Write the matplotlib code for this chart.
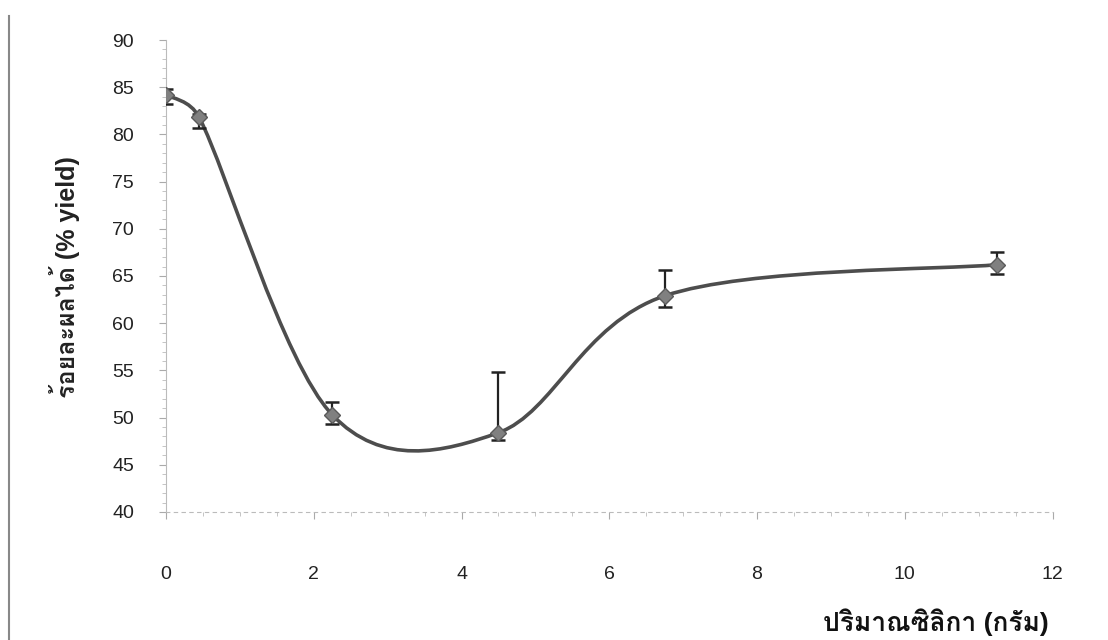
import numpy as np
import matplotlib
matplotlib.use("Agg")
from matplotlib import pyplot as plt
from matplotlib import font_manager
from matplotlib.ft2font import FT2Font
from matplotlib.path import Path
from matplotlib.patches import PathPatch
from matplotlib.lines import Line2D
from matplotlib.ticker import MultipleLocator

# silica amount (g) vs % yield
silica = [0.0, 0.45, 2.25, 4.5, 6.75, 11.25]
yield_pct = [84.2, 81.8, 50.3, 48.4, 62.9, 66.2]
err_low = [1.0, 1.1, 1.0, 0.8, 1.2, 1.0]
err_high = [0.6, 0.4, 1.4, 6.4, 2.7, 1.3]

xticks = [0, 2, 4, 6, 8, 10, 12]
yticks = [40, 45, 50, 55, 60, 65, 70, 75, 80, 85, 90]
xlabel = "ปริมาณซิลิกา (กรัม)"
ylabel = "ร้อยละผลได้ (% yield)"


def thai_families():
    # any installed family that has Thai glyphs
    fams = []
    for f in font_manager.fontManager.ttflist:
        try:
            cmap = FT2Font(f.fname).get_charmap()
        except Exception:
            continue
        if 0x0E1B in cmap and 0x0E34 in cmap and f.name not in fams:
            fams.append(f.name)
    return fams


plt.rcParams['font.family'] = ['Liberation Sans'] + thai_families() + ['DejaVu Sans']


def smooth_path(ax, xs, ys):
    # Excel style smoothed line: cubic Beziers with 1/6 tension,
    # control arms capped at half the segment length (in pixels)
    pts = ax.transData.transform(np.column_stack([xs, ys]))
    n = len(pts)
    verts = [pts[0]]
    codes = [Path.MOVETO]
    for i in range(n - 1):
        p0 = pts[i - 1] if i > 0 else pts[i]
        p1 = pts[i]
        p2 = pts[i + 1]
        p3 = pts[i + 2] if i + 2 < n else pts[i + 1]
        half = np.linalg.norm(p2 - p1) / 2.0
        a1 = (p2 - p0) / 6.0
        a2 = (p3 - p1) / 6.0
        if np.linalg.norm(a1) > half:
            a1 = a1 * half / np.linalg.norm(a1)
        if np.linalg.norm(a2) > half:
            a2 = a2 * half / np.linalg.norm(a2)
        verts += [p1 + a1, p2 - a2, p2]
        codes += [Path.CURVE4] * 3
    verts = ax.transData.inverted().transform(np.array(verts))
    return Path(verts, codes)


fig = plt.figure(figsize=(11.08, 6.4), dpi=100)
ax = fig.add_axes([0.1498, 0.2, 0.8002, 0.7375])

ax.set_xlim(0, 12)
ax.set_ylim(40, 90)
ax.set_xticks(xticks)
ax.set_yticks(yticks)
ax.xaxis.set_minor_locator(MultipleLocator(0.5))
ax.yaxis.set_minor_locator(MultipleLocator(1))

line_col = "#4d4d4d"
ax.add_patch(PathPatch(smooth_path(ax, silica, yield_pct), facecolor="none",
                       edgecolor=line_col, lw=2.6, zorder=3))
ax.errorbar(silica, yield_pct, yerr=[err_low, err_high], fmt="none",
            ecolor="#222222", elinewidth=1.6, capsize=5, capthick=1.8, zorder=4)
ax.plot(silica, yield_pct, "D", color="#808080", ms=8, mec="#5a5a5a", zorder=5)

for s in ["top", "right"]:
    ax.spines[s].set_visible(False)
ax.spines["left"].set_color("#bbbbbb")
ax.spines["bottom"].set_color("#bbbbbb")
ax.spines["bottom"].set_linestyle((0, (3, 4)))
ax.tick_params(axis="both", which="major", length=5, color="#aaaaaa",
               labelsize=14, labelcolor="#222222")
ax.tick_params(axis="both", which="minor", length=3, color="#bbbbbb")
ax.tick_params(axis="x", which="major", pad=34)
ax.tick_params(axis="y", which="major", pad=18)

fig.text(0.845, 0.028, xlabel, fontsize=19, fontweight="bold",
         ha="center", va="center", color="#111111")
fig.text(0.058, 0.567, ylabel, fontsize=18, fontweight="bold", rotation=90,
         ha="center", va="center", color="#222222")

# left border of the scanned page
fig.add_artist(Line2D([0.008, 0.008], [0.0, 0.975], color="#888888", lw=1.5,
                      transform=fig.transFigure))

fig.savefig("out.png", dpi=100)
